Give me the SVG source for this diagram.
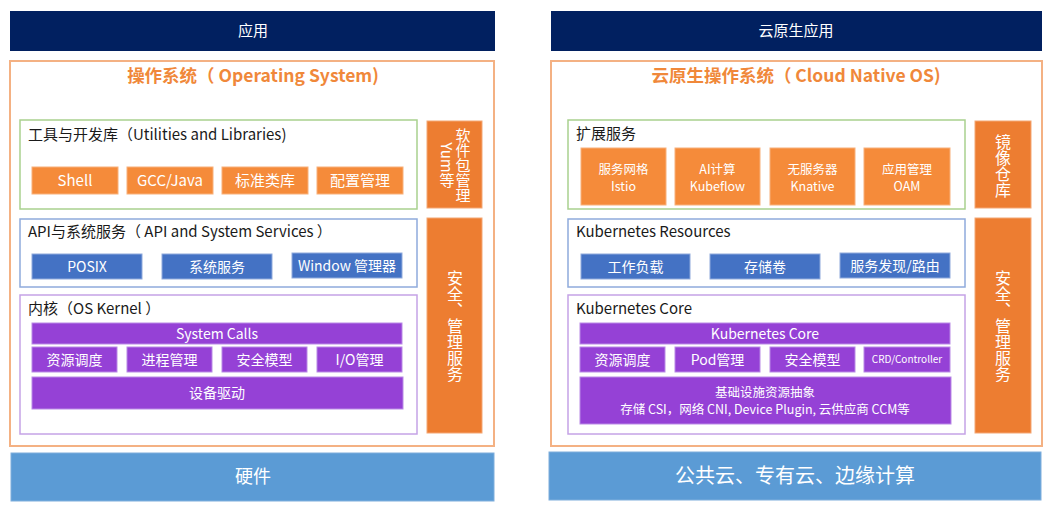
<svg xmlns="http://www.w3.org/2000/svg" width="1059" height="505" viewBox="0 0 1059 505">
<style>
text{font-family:"Noto Sans CJK SC","Noto Sans",sans-serif;}
.bar{fill:#012060;}
.hw{fill:#5B9BD5;stroke:#7FAEDC;stroke-width:1;}
.outer{fill:#fff;stroke:#F4B183;stroke-width:2;}
.green{fill:#fff;stroke:#A9D18E;stroke-width:1.5;}
.blue{fill:#fff;stroke:#8FAADC;stroke-width:1.5;}
.purple{fill:#fff;stroke:#C5A3E6;stroke-width:1.5;}
.org{fill:#F58B3A;stroke:#F8B07A;stroke-width:1;}
.side{fill:#ED7D31;stroke:#F4A774;stroke-width:1;}
.blu{fill:#4472C4;stroke:#8FAADC;stroke-width:1;}
.pur{fill:#9541D6;stroke:#B98AE6;stroke-width:1;}
.wt{fill:#fff;text-anchor:middle;}
.title{fill:#F0883A;font-weight:bold;font-size:17.5px;text-anchor:middle;}
.lbl{fill:#1a1a1a;font-size:15px;}
.vt{fill:#fff;writing-mode:vertical-rl;text-anchor:middle;}
</style>
<g id="connectors"/>

<!-- LEFT -->
<g id="app-left"><rect class="bar" x="10" y="11" width="485" height="40"/><text class="wt" x="253" y="36" font-size="15">应用</text></g>
<g id="os-left"><rect class="outer" x="10" y="61" width="484" height="385"/><text class="title" x="253" y="82">操作系统（ Operating System)</text></g>

<g id="utilities"><rect class="green" x="20" y="120" width="397" height="89"/><text class="lbl" x="28" y="140">工具与开发库（Utilities and Libraries)</text></g>
<g id="shell"><rect class="org" x="32" y="167" width="86" height="27"/><text class="wt" x="75" y="186" font-size="15">Shell</text></g>
<g id="gcc"><rect class="org" x="127" y="167" width="86" height="27"/><text class="wt" x="170" y="186" font-size="15">GCC/Java</text></g>
<g id="stdlib"><rect class="org" x="222" y="167" width="86" height="27"/><text class="wt" x="265" y="186" font-size="15">标准类库</text></g>
<g id="config"><rect class="org" x="317" y="167" width="86" height="27"/><text class="wt" x="360" y="186" font-size="15">配置管理</text></g>
<g id="pkg"><rect class="side" x="427" y="121" width="55" height="87"/><text class="vt" x="463" y="165" font-size="15">软件包管理</text><text class="vt" x="447" y="165" font-size="15">Yum等</text></g>

<g id="api"><rect class="blue" x="20" y="219" width="397" height="68"/><text class="lbl" x="28" y="237">API与系统服务（  API and  System Services ）</text></g>
<g id="posix"><rect class="blu" x="32" y="254" width="110" height="25"/><text class="wt" x="87" y="272" font-size="14">POSIX</text></g>
<g id="syssvc"><rect class="blu" x="162" y="254" width="110" height="25"/><text class="wt" x="217" y="272" font-size="14">系统服务</text></g>
<g id="window"><rect class="blu" x="292" y="253" width="110" height="25"/><text class="wt" x="347" y="271" font-size="14">Window 管理器</text></g>
<g id="sec-left"><rect class="side" x="427" y="218" width="55" height="215"/><text class="vt" x="455" y="326" font-size="16">安全、管理服务</text></g>

<g id="kernel"><rect class="purple" x="20" y="295" width="397" height="139"/><text class="lbl" x="28" y="314">内核（OS Kernel ）</text></g>
<g id="syscalls"><rect class="pur" x="32" y="323" width="370" height="21"/><text class="wt" x="217" y="339" font-size="14">System Calls</text></g>
<g id="sched-l"><rect class="pur" x="32" y="347" width="85" height="25"/><text class="wt" x="74.5" y="365" font-size="14">资源调度</text></g>
<g id="proc"><rect class="pur" x="127" y="347" width="85" height="25"/><text class="wt" x="169.5" y="365" font-size="14">进程管理</text></g>
<g id="secmodel-l"><rect class="pur" x="222" y="347" width="85" height="25"/><text class="wt" x="264.5" y="365" font-size="14">安全模型</text></g>
<g id="io"><rect class="pur" x="317" y="347" width="85" height="25"/><text class="wt" x="359.5" y="365" font-size="14">I/O管理</text></g>
<g id="driver"><rect class="pur" x="32" y="377" width="371" height="32"/><text class="wt" x="217" y="398" font-size="14">设备驱动</text></g>

<g id="hw-left"><rect class="hw" x="11" y="453" width="483" height="48"/><text class="wt" x="253" y="483" font-size="18">硬件</text></g>

<!-- RIGHT -->
<g id="app-right"><rect class="bar" x="551" y="11" width="491" height="40"/><text class="wt" x="796" y="36" font-size="15">云原生应用</text></g>
<g id="os-right"><rect class="outer" x="551" y="61" width="491" height="385"/><text class="title" x="796" y="82">云原生操作系统（ Cloud Native OS)</text></g>

<g id="ext"><rect class="green" x="568" y="120" width="397" height="89"/><text class="lbl" x="576" y="139">扩展服务</text></g>
<g id="istio"><rect class="org" x="581" y="148" width="85" height="57"/><text class="wt" x="623.5" y="174" font-size="12.5">服务网格</text><text class="wt" x="623.5" y="191" font-size="12.5">Istio</text></g>
<g id="kubeflow"><rect class="org" x="675" y="148" width="85" height="57"/><text class="wt" x="717.5" y="174" font-size="12.5">AI计算</text><text class="wt" x="717.5" y="191" font-size="12.5">Kubeflow</text></g>
<g id="knative"><rect class="org" x="770" y="148" width="85" height="57"/><text class="wt" x="812.5" y="174" font-size="12.5">无服务器</text><text class="wt" x="812.5" y="191" font-size="12.5">Knative</text></g>
<g id="oam"><rect class="org" x="864" y="148" width="86" height="57"/><text class="wt" x="907" y="174" font-size="12.5">应用管理</text><text class="wt" x="907" y="191" font-size="12.5">OAM</text></g>
<g id="registry"><rect class="side" x="975" y="121" width="56" height="87"/><text class="vt" x="1003" y="166" font-size="16">镜像仓库</text></g>

<g id="k8sres"><rect class="blue" x="568" y="219" width="397" height="68"/><text class="lbl" x="576" y="237">Kubernetes Resources</text></g>
<g id="workload"><rect class="blu" x="581" y="254" width="109" height="25"/><text class="wt" x="635.5" y="272" font-size="14">工作负载</text></g>
<g id="volume"><rect class="blu" x="710" y="254" width="110" height="25"/><text class="wt" x="765" y="272" font-size="14">存储卷</text></g>
<g id="discovery"><rect class="blu" x="840" y="253" width="110" height="25"/><text class="wt" x="895" y="271" font-size="14">服务发现/路由</text></g>
<g id="sec-right"><rect class="side" x="975" y="218" width="56" height="215"/><text class="vt" x="1003" y="326" font-size="16">安全、管理服务</text></g>

<g id="k8score"><rect class="purple" x="568" y="295" width="397" height="139"/><text class="lbl" x="576" y="314">Kubernetes Core</text></g>
<g id="k8score-bar"><rect class="pur" x="580" y="323" width="370" height="21"/><text class="wt" x="765" y="339" font-size="14">Kubernetes Core</text></g>
<g id="sched-r"><rect class="pur" x="580" y="347" width="85" height="25"/><text class="wt" x="622.5" y="365" font-size="14">资源调度</text></g>
<g id="pod"><rect class="pur" x="675" y="347" width="85" height="25"/><text class="wt" x="717.5" y="365" font-size="14">Pod管理</text></g>
<g id="secmodel-r"><rect class="pur" x="770" y="347" width="85" height="25"/><text class="wt" x="812.5" y="365" font-size="14">安全模型</text></g>
<g id="crd"><rect class="pur" x="864" y="347" width="86" height="25"/><text class="wt" x="907" y="363" font-size="10">CRD/Controller</text></g>
<g id="infra"><rect class="pur" x="580" y="377" width="371" height="47"/><text class="wt" x="765" y="397" font-size="12.5">基础设施资源抽象</text><text class="wt" x="765" y="414" font-size="12.5">存储 CSI，网络 CNI, Device Plugin, 云供应商 CCM等</text></g>

<g id="hw-right"><rect class="hw" x="549" y="452" width="492" height="48"/><text class="wt" x="795" y="483" font-size="20">公共云、专有云、边缘计算</text></g>
</svg>
